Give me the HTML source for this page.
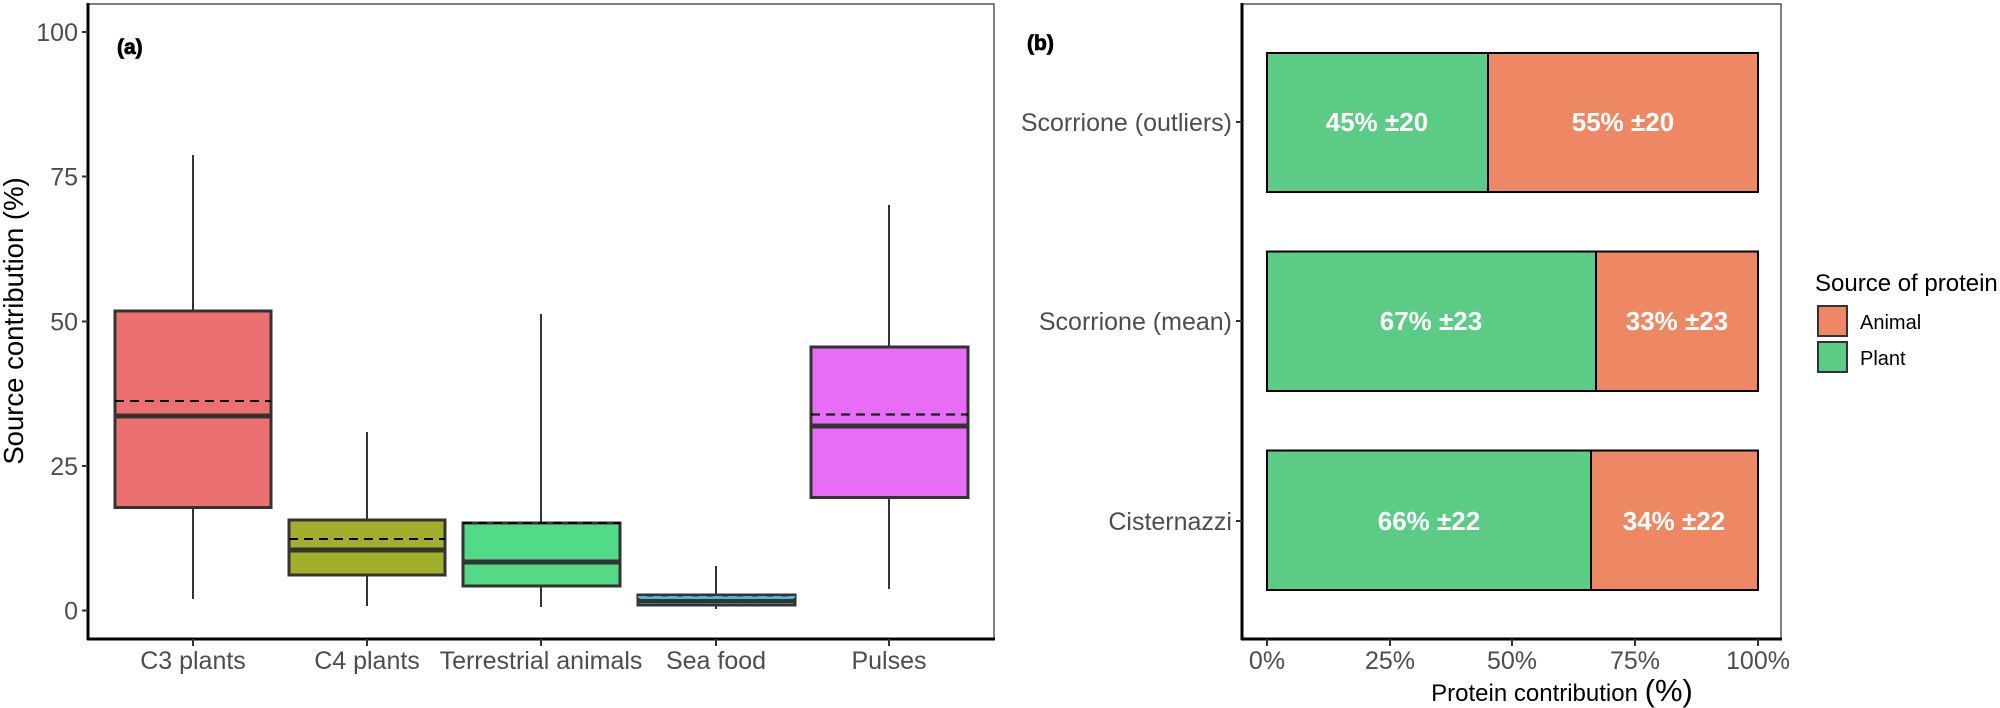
<!DOCTYPE html>
<html><head><meta charset="utf-8"><style>
html,body{margin:0;padding:0;background:#fff;}
svg{display:block;font-family:"Liberation Sans",Arial,sans-serif;}
</style></head><body>
<svg width="2000" height="708" viewBox="0 0 2000 708" xmlns="http://www.w3.org/2000/svg">
<!-- Panel a frame -->
<rect x="88" y="4" width="906" height="635" fill="#fff" stroke="#555" stroke-width="1.5"/>
<line x1="88" y1="3" x2="88" y2="640" stroke="#000" stroke-width="3"/>
<line x1="87" y1="639" x2="995" y2="639" stroke="#000" stroke-width="3"/>
<g stroke="#333" stroke-width="2">
<line x1="82" y1="32" x2="88" y2="32"/><line x1="82" y1="176.5" x2="88" y2="176.5"/>
<line x1="82" y1="321.5" x2="88" y2="321.5"/><line x1="82" y1="466" x2="88" y2="466"/>
<line x1="82" y1="610.5" x2="88" y2="610.5"/>
<line x1="193" y1="639" x2="193" y2="646"/><line x1="367" y1="639" x2="367" y2="646"/>
<line x1="541" y1="639" x2="541" y2="646"/><line x1="716" y1="639" x2="716" y2="646"/>
<line x1="889" y1="639" x2="889" y2="646"/>
</g>
<g font-size="25" fill="#4d4d4d" text-anchor="end">
<text x="78" y="41">100</text><text x="78" y="185.5">75</text><text x="78" y="330.5">50</text>
<text x="78" y="475">25</text><text x="78" y="619.5">0</text>
</g>
<text transform="translate(23,321) rotate(-90)" font-size="27.5" text-anchor="middle" fill="#000">Source contribution (%)</text>
<g font-size="25" fill="#4d4d4d" text-anchor="middle">
<text x="193" y="669">C3 plants</text><text x="367" y="669">C4 plants</text>
<text x="541" y="669">Terrestrial animals</text><text x="716" y="669">Sea food</text>
<text x="889" y="669">Pulses</text>
</g>
<text x="117" y="54" font-size="21" font-weight="bold" fill="#000" stroke="#000" stroke-width="0.8">(a)</text>
<g stroke="#333" stroke-width="2">
<line x1="193" y1="155" x2="193" y2="599"/>
<rect x="115" y="311" width="156" height="196.5" fill="#ED7070" stroke-width="3"/>
<line x1="115" y1="416" x2="271" y2="416" stroke-width="5"/>
<line x1="115" y1="401" x2="271" y2="401" stroke="#000" stroke-dasharray="9,6"/>

<line x1="367" y1="432" x2="367" y2="606"/>
<rect x="289" y="520" width="156" height="55" fill="#A3AE2A" stroke-width="3"/>
<line x1="289" y1="550" x2="445" y2="550" stroke-width="5"/>
<line x1="289" y1="539" x2="445" y2="539" stroke="#000" stroke-dasharray="9,6"/>

<line x1="541" y1="314" x2="541" y2="607"/>
<rect x="463" y="523" width="157" height="63" fill="#53DA87" stroke-width="3"/>
<line x1="463" y1="562" x2="620" y2="562" stroke-width="5"/>
<line x1="463" y1="523" x2="620" y2="523" stroke="#000" stroke-dasharray="9,6"/>

<line x1="716" y1="566" x2="716" y2="609"/>
<rect x="638" y="595" width="157" height="10" fill="#4BB8E0" stroke-width="3"/>
<line x1="638" y1="601" x2="795" y2="601" stroke-width="4"/>
<line x1="638" y1="597" x2="795" y2="597" stroke="#4BB8E0" stroke-dasharray="9,6"/>

<line x1="889" y1="205" x2="889" y2="589"/>
<rect x="811" y="347" width="157" height="150.5" fill="#E86DF5" stroke-width="3"/>
<line x1="811" y1="426" x2="968" y2="426" stroke-width="5"/>
<line x1="811" y1="414.5" x2="968" y2="414.5" stroke="#000" stroke-dasharray="9,6"/>
</g>

<!-- Panel b -->
<rect x="1242" y="4" width="539" height="635" fill="#fff" stroke="#555" stroke-width="1.5"/>
<line x1="1242" y1="3" x2="1242" y2="640" stroke="#000" stroke-width="3"/>
<line x1="1241" y1="639" x2="1782" y2="639" stroke="#000" stroke-width="3"/>
<text x="1027" y="50" font-size="21" font-weight="bold" fill="#000" stroke="#000" stroke-width="0.8">(b)</text>
<g stroke="#333" stroke-width="2">
<line x1="1236" y1="122" x2="1242" y2="122"/><line x1="1236" y1="321" x2="1242" y2="321"/>
<line x1="1236" y1="521" x2="1242" y2="521"/>
<line x1="1267" y1="639" x2="1267" y2="646"/><line x1="1390" y1="639" x2="1390" y2="646"/>
<line x1="1512" y1="639" x2="1512" y2="646"/><line x1="1635" y1="639" x2="1635" y2="646"/>
<line x1="1758" y1="639" x2="1758" y2="646"/>
</g>
<g font-size="25" fill="#4d4d4d" text-anchor="end">
<text x="1232" y="131">Scorrione (outliers)</text>
<text x="1232" y="330">Scorrione (mean)</text>
<text x="1232" y="530">Cisternazzi</text>
</g>
<g font-size="25" fill="#4d4d4d" text-anchor="middle">
<text x="1267" y="669">0%</text><text x="1390" y="669">25%</text><text x="1512" y="669">50%</text>
<text x="1635" y="669">75%</text><text x="1758" y="669">100%</text>
</g>
<text x="1562" y="701" font-size="24" text-anchor="middle" fill="#000">Protein contribution <tspan font-size="31">(%)</tspan></text>
<g stroke="#000" stroke-width="2">
<rect x="1267" y="53" width="221" height="139" fill="#5BCB85"/>
<rect x="1488" y="53" width="270" height="139" fill="#EE8864"/>
<rect x="1267" y="251.5" width="329" height="139.5" fill="#5BCB85"/>
<rect x="1596" y="251.5" width="162" height="139.5" fill="#EE8864"/>
<rect x="1267" y="450.5" width="324" height="139.5" fill="#5BCB85"/>
<rect x="1591" y="450.5" width="167" height="139.5" fill="#EE8864"/>
</g>
<g font-size="26" font-weight="bold" fill="#fff" text-anchor="middle">
<text x="1377" y="131">45% ±20</text><text x="1623" y="131">55% ±20</text>
<text x="1431" y="330">67% ±23</text><text x="1677" y="330">33% ±23</text>
<text x="1429" y="530">66% ±22</text><text x="1674" y="530">34% ±22</text>
</g>
<text x="1815" y="291" font-size="24" fill="#000">Source of protein</text>
<rect x="1818" y="306" width="29" height="30" fill="#EE8864" stroke="#333" stroke-width="2"/>
<rect x="1818" y="342" width="29" height="30" fill="#5BCB85" stroke="#333" stroke-width="2"/>
<text x="1860" y="329" font-size="20" fill="#000">Animal</text>
<text x="1860" y="365" font-size="20" fill="#000">Plant</text>
</svg>
</body></html>
